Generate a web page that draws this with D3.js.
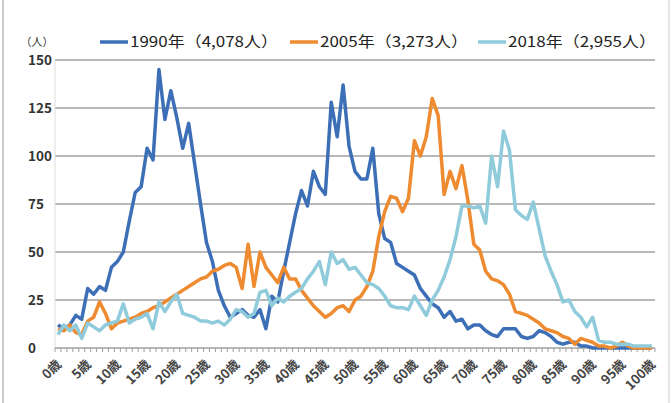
<!DOCTYPE html>
<html>
<head>
<meta charset="utf-8">
<script src="https://cdn.jsdelivr.net/npm/d3@7/dist/d3.min.js"></script>
<style>
  body { margin: 0; background: #fff; }
  svg { display: block; font-family: "Noto Sans CJK JP", "Noto Sans", sans-serif; }
</style>
</head>
<body>
<div id="chart"></div>
<script>
// ages 0..100 (categories)
const ages = d3.range(0, 101);
const yTicks = [0, 25, 50, 75, 100, 125, 150];

// 1990
const v1990 = [
  12, 10, 12, 17, 15, 31, 28, 32, 30, 42,
  45, 50, 66, 81, 84, 104, 98, 145, 119, 134,
  120, 104, 117, 96, 75, 55, 45, 30, 22, 16,
  18, 20, 17, 16, 20, 10, 27, 24, 40, 55,
  70, 82, 74, 92, 84, 80, 128, 110, 137, 105,
  92, 88, 88, 104, 70, 57, 55, 44, 42, 40,
  38, 31, 27, 23, 21, 16, 19, 14, 15, 10,
  12, 12, 9, 7, 6, 10, 10, 10, 6, 5,
  6, 9, 8, 6, 3, 2, 3, 3, 1, 1,
  0, 0, 0, 0, 0, 0, 0, 0, 0, 0, 0
];
// 2005
const v2005 = [
  10, 9, 12, 8, 7, 14, 16, 24, 18, 10,
  13, 14, 15, 16, 18, 19, 21, 22, 24, 26,
  28, 30, 32, 34, 36, 37, 40, 41, 43, 44,
  42, 31, 54, 32, 50, 42, 38, 34, 42, 36,
  36, 30, 26, 22, 19, 16, 18, 21, 22, 19,
  25, 27, 32, 40, 58, 71, 79, 78, 71, 78,
  108, 100, 110, 130, 121, 80, 92, 83, 95, 77,
  54, 51, 40, 36, 35, 33, 28, 19, 18, 17,
  15, 13, 10, 9, 8, 6, 5, 2, 5, 4,
  3, 1, 1, 0, 1, 3, 1, 0, 0, 0, 0
];
// 2018
const v2018 = [
  7, 12, 9, 12, 5, 13, 11, 9, 12, 13,
  14, 23, 13, 15, 16, 18, 10, 24, 19, 24,
  28, 18, 17, 16, 14, 14, 13, 14, 12, 15,
  20, 19, 16, 18, 29, 30, 22, 26, 24, 27,
  29, 31, 36, 40, 45, 33, 50, 44, 46, 41,
  42, 38, 34, 33, 31, 27, 22, 21, 21, 20,
  27, 22, 17, 25, 30, 37, 46, 58, 74, 74,
  73, 74, 65, 100, 84, 113, 103, 72, 69, 67,
  76, 62, 48, 40, 33, 24, 25, 19, 16, 11,
  16, 4, 3, 3, 2, 2, 2, 1, 1, 1, 1
];

const seriesNames = ["1990年（4,078人）", "2005年（3,273人）", "2018年（2,955人）"];
const seriesValues = [v1990, v2005, v2018];
const seriesColors = ["#3d6fb7", "#ee8b30", "#90cbdc"];

const width = 672, height = 403;
const plotL = 55, plotR = 655, plotT = 60, plotB = 348;

const svg = d3.select("#chart").append("svg")
  .attr("width", width)
  .attr("height", height);

// frame
svg.append("line").attr("x1", 3).attr("x2", 3).attr("y1", 0).attr("y2", height)
  .attr("stroke", "#bbb").attr("stroke-width", 1.5);
svg.append("line").attr("x1", 669).attr("x2", 669).attr("y1", 0).attr("y2", height)
  .attr("stroke", "#ccc").attr("stroke-width", 1);

const x = d3.scalePoint().domain(ages).range([plotL, plotR]).padding(0.5);
const y = d3.scaleLinear().domain([0, 150]).range([plotB, plotT]);

// gridlines
svg.append("g")
  .selectAll("line")
  .data(yTicks.filter(d => d > 0))
  .join("line")
  .attr("x1", plotL).attr("x2", plotR)
  .attr("y1", d => y(d)).attr("y2", d => y(d))
  .attr("stroke", "#a0a0a0").attr("stroke-width", 1.3);

// y axis labels
svg.append("g")
  .selectAll("text")
  .data(yTicks)
  .join("text")
  .attr("x", 28)
  .attr("y", d => y(d))
  .attr("dy", "0.36em")
  .attr("text-anchor", "start")
  .attr("font-size", 13.5)
  .attr("font-weight", 600)
  .attr("fill", "#333")
  .text(d => d);

svg.append("line").attr("x1", plotL).attr("x2", plotL).attr("y1", plotT).attr("y2", plotB)
  .attr("stroke", "#ddd");

// x axis baseline + category ticks
svg.append("line").attr("x1", plotL).attr("x2", plotR).attr("y1", plotB).attr("y2", plotB)
  .attr("stroke", "#a0a0a0").attr("stroke-width", 1.3);
const step = x.step();
svg.append("g")
  .selectAll("line")
  .data(d3.range(0, ages.length + 1))
  .join("line")
  .attr("x1", i => plotL + i * step).attr("x2", i => plotL + i * step)
  .attr("y1", plotB).attr("y2", plotB + 4)
  .attr("stroke", "#a0a0a0");

// x labels every 5 years
svg.append("g")
  .selectAll("text")
  .data(ages.filter(a => a % 5 === 0))
  .join("text")
  .attr("transform", a => `translate(${x(a) + 1},${plotB + 14}) rotate(-45)`)
  .attr("text-anchor", "end")
  .attr("dy", "0.35em")
  .attr("font-size", 13)
  .attr("font-weight", 600)
  .attr("fill", "#444")
  .text(a => a + "歳");

// lines
const line = d3.line()
  .x((d, i) => x(ages[i]))
  .y(d => y(d));

seriesValues.forEach((vals, k) => {
  svg.append("path")
    .datum(vals)
    .attr("fill", "none")
    .attr("stroke", seriesColors[k])
    .attr("stroke-width", 3.5)
    .attr("stroke-linejoin", "round")
    .attr("d", line);
});

// unit label
svg.append("text")
  .attr("x", 37).attr("y", 46)
  .attr("text-anchor", "middle")
  .attr("font-size", 11)
  .attr("fill", "#333")
  .text("（人）");

// legend
const legendX = [100, 290, 478];
seriesNames.forEach((name, k) => {
  const g = svg.append("g").attr("transform", `translate(${legendX[k]},42)`);
  g.append("line").attr("x1", 0).attr("x2", 28).attr("y1", 0).attr("y2", 0)
    .attr("stroke", seriesColors[k]).attr("stroke-width", 3.5);
  g.append("text")
    .attr("x", 30).attr("y", 0).attr("dy", "0.36em")
    .attr("font-size", 15)
    .attr("fill", "#222")
    .attr("textLength", 148)
    .attr("lengthAdjust", "spacingAndGlyphs")
    .text(name);
});
</script>
</body>
</html>
